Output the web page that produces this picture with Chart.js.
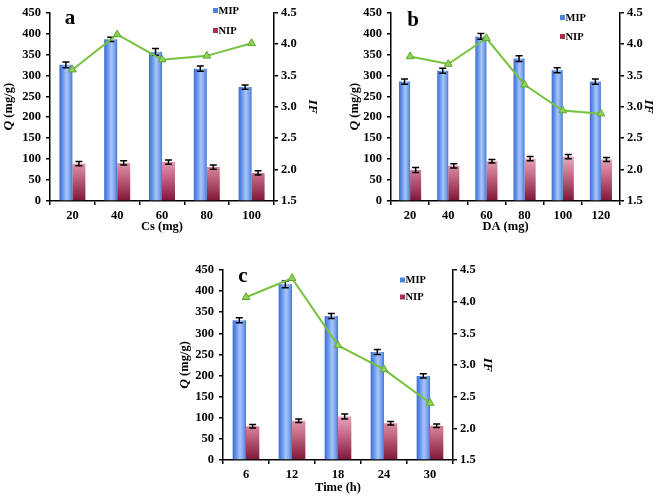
<!DOCTYPE html>
<html><head><meta charset="utf-8">
<script src="https://cdn.jsdelivr.net/npm/chart.js@4.4.1/dist/chart.umd.min.js"></script>
<style>
html,body{margin:0;padding:0;background:#fff;}
body{width:661px;height:497px;position:relative;overflow:hidden;}
.p{position:absolute;}
</style></head><body>
<div class="p" style="left:0;top:0;width:330px;height:240px"><canvas id="ca" width="330" height="240"></canvas></div>
<div class="p" style="left:330px;top:0;width:331px;height:240px"><canvas id="cb" width="331" height="240"></canvas></div>
<div class="p" style="left:160px;top:240px;width:340px;height:257px"><canvas id="cc" width="340" height="257"></canvas></div>
<script>
// ---- data ----
const qTicks = [0, 50, 100, 150, 200, 250, 300, 350, 400, 450];
const ifTicks = [1.5, 2.0, 2.5, 3.0, 3.5, 4.0, 4.5];

const catsA = ['20', '40', '60', '80', '100'];
const mipA = [325, 386, 356, 316, 272];
const mipErrA = [7, 5, 8, 6, 5];
const nipA = [89, 91, 93, 81, 67];
const nipErrA = [5, 5, 5, 5, 5];
const ifA = [3.59, 4.15, 3.75, 3.81, 4.01];

const catsB = ['20', '40', '60', '80', '100', '120'];
const mipB = [285, 311, 393, 340, 312, 285];
const mipErrB = [6, 6, 7, 7, 6, 6];
const nipB = [74, 84, 95, 101, 106, 99];
const nipErrB = [6, 5, 4, 5, 5, 5];
const ifB = [3.80, 3.68, 4.09, 3.35, 2.94, 2.89];

const catsC = ['6', '12', '18', '24', '30'];
const mipC = [331, 416, 341, 256, 199];
const mipErrC = [6, 8, 6, 6, 5];
const nipC = [80, 93, 103, 87, 81];
const nipErrC = [4, 4, 6, 4, 4];
const ifC = [4.07, 4.37, 3.31, 2.93, 2.40];

// ---- rendering ----
const FONT = "'Liberation Serif','Times New Roman',serif";
const CAT_PCT = 0.58;
Chart.defaults.font.family = FONT;
Chart.defaults.color = '#000';

function barFill(ctx, which) {
  const chart = ctx.chart, xs = chart.scales.x, ys = chart.scales.y;
  if (!chart.chartArea || !xs || !ys || ctx.type !== 'data') return which === 0 ? '#6f9ae6' : '#b34a68';
  const n = chart.data.labels.length;
  const catW = (xs.right - xs.left) / n;
  const bw = catW * CAT_PCT / 2;
  const c = xs.getPixelForValue(ctx.dataIndex);
  if (which === 0) {
    const x0 = c - bw;
    const g = chart.ctx.createLinearGradient(x0, 0, x0 + bw, 0);
    g.addColorStop(0, '#3a6cd2');
    g.addColorStop(0.3, '#6e9bef');
    g.addColorStop(0.55, '#a9c6f7');
    g.addColorStop(0.8, '#79a3ee');
    g.addColorStop(1, '#4677d4');
    return g;
  } else {
    const g = chart.ctx.createLinearGradient(0, ys.getPixelForValue(110), 0, ys.getPixelForValue(0));
    g.addColorStop(0, '#eab0bf');
    g.addColorStop(0.45, '#c56a84');
    g.addColorStop(1, '#7e1636');
    return g;
  }
}

const errPlugin = {
  id: 'errbars',
  afterDatasetDraw(chart, args) {
    const ds = chart.data.datasets[args.index];
    if (!ds.errors) return;
    const ys = chart.scales.y, c = chart.ctx;
    c.save();
    c.strokeStyle = '#000';
    c.lineWidth = 1.5;
    args.meta.data.forEach((el, i) => {
      const v = ds.data[i], e = ds.errors[i];
      const y1 = ys.getPixelForValue(v + e), y2 = ys.getPixelForValue(v - e);
      c.beginPath();
      c.moveTo(el.x, y1); c.lineTo(el.x, y2);
      c.moveTo(el.x - 3.5, y1); c.lineTo(el.x + 3.5, y1);
      c.moveTo(el.x - 3.5, y2); c.lineTo(el.x + 3.5, y2);
      c.stroke();
    });
    c.restore();
  }
};

const decoPlugin = {
  id: 'deco',
  afterDraw(chart, args, o) {
    const c = chart.ctx, ca = chart.chartArea;
    c.save();
    // panel letter
    c.fillStyle = '#000';
    c.font = 'bold 21px ' + FONT;
    c.textAlign = 'center'; c.textBaseline = 'middle';
    c.fillText(o.letter, ca.left + o.lx, ca.top + o.ly);
    // legend
    c.font = 'bold 10.5px ' + FONT;
    c.textAlign = 'left';
    const sx = ca.right + o.legX;
    [[o.mipY, '#4f80da', 'MIP'], [o.nipY, '#a8304f', 'NIP']].forEach(([dy, col, t]) => {
      const y = ca.top + dy;
      c.fillStyle = col;
      c.fillRect(sx, y - 2.5, 5, 5);
      c.fillStyle = '#000';
      c.fillText(t, sx + 5.5, y + 0.5);
    });
    // left axis title with italic Q
    const ys = chart.scales.y;
    const cy = (ca.top + ca.bottom) / 2;
    c.translate(ys.left + o.qX, cy);
    c.rotate(-Math.PI / 2);
    c.textBaseline = 'middle';
    const f1 = 'italic bold 13.5px ' + FONT, f2 = 'bold 12.5px ' + FONT;
    c.font = f1; const w1 = c.measureText('Q').width;
    c.font = f2; const w2 = c.measureText(' (mg/g)').width;
    let x = -(w1 + w2) / 2;
    c.font = f1; c.fillText('Q', x, 0);
    c.font = f2; c.fillText(' (mg/g)', x + w1, 0);
    c.restore();
  }
};

function makeChart(id, cats, mip, mipErr, nip, nipErr, iff, xTitle, L) {
  const tickFont = { size: 12.5, weight: 'bold', family: FONT };
  new Chart(document.getElementById(id), {
    data: {
      labels: cats,
      datasets: [
        { type: 'line', label: 'IF', data: iff, yAxisID: 'y1', order: 0,
          borderColor: '#76c23e', borderWidth: 2, pointStyle: 'triangle', pointRadius: 4.5,
          pointBackgroundColor: '#8fd25a', pointBorderColor: '#5fa82c', pointBorderWidth: 1, tension: 0 },
        { type: 'bar', label: 'MIP', data: mip, errors: mipErr, yAxisID: 'y', order: 1,
          backgroundColor: (ctx) => barFill(ctx, 0), borderWidth: 0,
          categoryPercentage: CAT_PCT, barPercentage: 1 },
        { type: 'bar', label: 'NIP', data: nip, errors: nipErr, yAxisID: 'y', order: 1,
          backgroundColor: (ctx) => barFill(ctx, 1), borderWidth: 0,
          categoryPercentage: CAT_PCT, barPercentage: 1 }
      ]
    },
    options: {
      responsive: false, animation: false, devicePixelRatio: 1,
      layout: { padding: { top: L.padTop, left: 0, right: 0, bottom: 0 } },
      plugins: { legend: { display: false }, tooltip: { enabled: false }, deco: L.deco },
      scales: {
        x: {
          grid: { display: true, drawOnChartArea: false, offset: true, drawTicks: true, tickLength: 4, color: '#000', lineWidth: 1.5 },
          border: { color: '#000', width: 1.5 },
          ticks: { font: tickFont, padding: L.xTickPad, maxRotation: 0 },
          title: { display: true, text: xTitle, font: { size: 12.5, weight: 'bold', family: FONT }, padding: { top: 0, bottom: L.xTitlePad } },
          afterFit(s) { s.height = L.bottomH; }
        },
        y: {
          position: 'left', min: qTicks[0], max: qTicks[qTicks.length - 1],
          grid: { display: true, drawOnChartArea: false, drawTicks: true, tickLength: 4, color: '#000', lineWidth: 1.5 },
          border: { color: '#000', width: 1.5 },
          ticks: { stepSize: qTicks[1] - qTicks[0], font: tickFont, padding: 5 },
          afterFit(s) { s.width = L.leftW; }
        },
        y1: {
          position: 'right', min: ifTicks[0], max: ifTicks[ifTicks.length - 1],
          grid: { display: true, drawOnChartArea: false, drawTicks: true, tickLength: 4, color: '#000', lineWidth: 1.5 },
          border: { color: '#000', width: 1.5 },
          ticks: { stepSize: ifTicks[1] - ifTicks[0], font: tickFont, padding: 3, callback: (v) => Number(v).toFixed(1) },
          title: { display: true, text: 'IF', font: { size: 13.5, weight: 'bold', style: 'italic', family: FONT }, padding: { top: L.ifPad, bottom: 0 } },
          afterFit(s) { s.width = L.rightW; }
        }
      }
    },
    plugins: [errPlugin, decoPlugin]
  });
}

makeChart('ca', catsA, mipA, mipErrA, nipA, nipErrA, ifA, 'Cs (mg)', {
  padTop: 7, leftW: 50, rightW: 56, bottomH: 39, xTickPad: 3, xTitlePad: 5.5, ifPad: 9,
  deco: { letter: 'a', lx: 20, ly: 6, legX: -61, mipY: -2, nipY: 18, qX: 9 }
});
makeChart('cb', catsB, mipB, mipErrB, nipB, nipErrB, ifB, 'DA (mg)', {
  padTop: 7, leftW: 61, rightW: 41, bottomH: 39, xTickPad: 3, xTitlePad: 5.5, ifPad: 4.5,
  deco: { letter: 'b', lx: 22, ly: 8, legX: -60, mipY: 5, nipY: 24, qX: 25 }
});
makeChart('cc', catsC, mipC, mipErrC, nipC, nipErrC, ifC, 'Time (h)', {
  padTop: 30, leftW: 63, rightW: 47, bottomH: 37, xTickPad: 3.5, xTitlePad: 2.2, ifPad: 4.5,
  deco: { letter: 'c', lx: 20, ly: 7, legX: -53, mipY: 10, nipY: 27, qX: 25 }
});
</script>
</body></html>
